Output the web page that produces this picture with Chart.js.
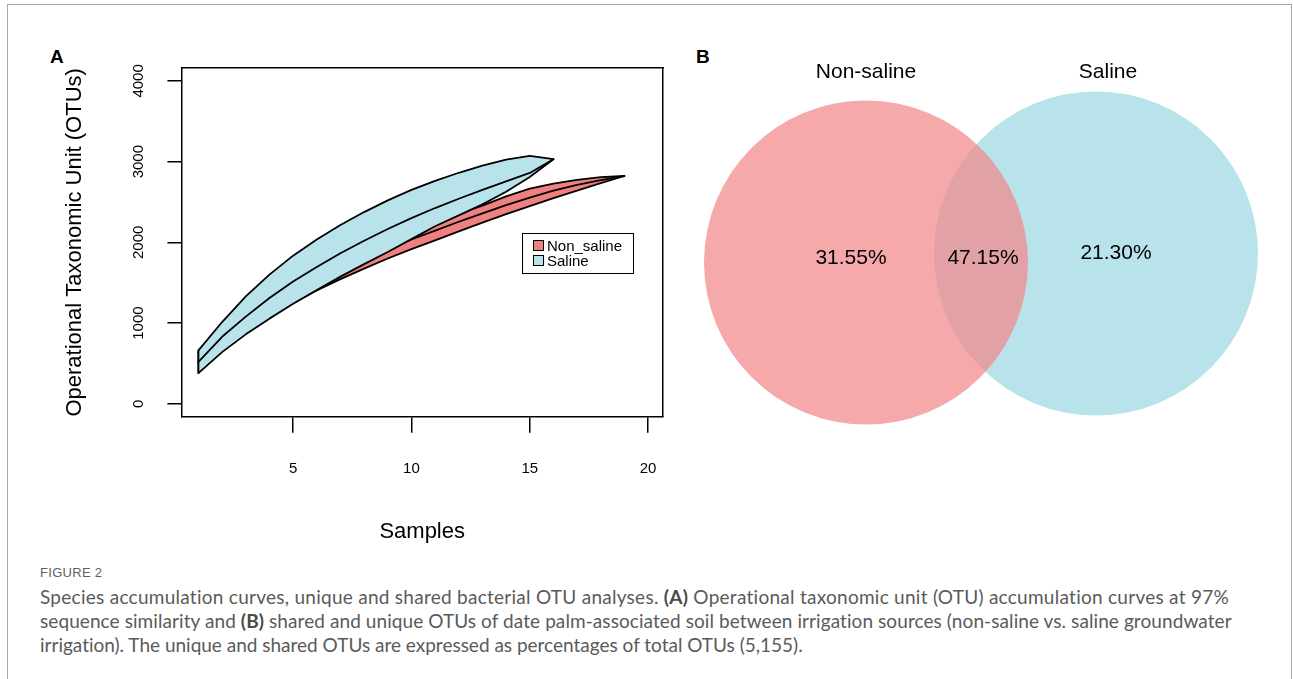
<!DOCTYPE html>
<html>
<head>
<meta charset="utf-8">
<title>Figure 2 — OTU accumulation / Venn</title>
<script src="https://cdn.jsdelivr.net/npm/chart.js@4.4.1/dist/chart.umd.min.js"></script>
<style>
  html, body { margin: 0; padding: 0; background: #fff; }
  body { width: 1293px; height: 679px; position: relative; overflow: hidden;
         font-family: "Liberation Sans", Arial, Helvetica, sans-serif; color: #000; }
  #frame { position: absolute; left: 7px; top: 4px; width: 1283px; height: 720px;
           border: 1px solid #a8a8a8; border-bottom: none; }
  .abs { position: absolute; }
  .panel { font-weight: bold; font-size: 19px; line-height: 24px; }
  #legendA { left: 522px; top: 233px; width: 112px; height: 41px; box-sizing: border-box;
             border: 1.5px solid #000; font-size: 15px; }
  #legendA .row { position: absolute; left: 10px; height: 15px; line-height: 15px; white-space: nowrap; }
  #legendA .sw { display: inline-block; width: 9px; height: 9px; border: 1.2px solid #000;
                 vertical-align: top; margin-top: 2px; margin-right: 3px; }
  .venn { font-size: 21px; line-height: 24px; white-space: nowrap; transform: translate(-50%, -50%); }
  #figno { left: 40px; top: 565px; font-size: 13px; line-height: 16px; color: #5f5f5f;
           letter-spacing: 0.3px; }
  #caption { left: 40px; top: 585px; font-family: Lato, "Open Sans", sans-serif; font-size: 19px;
             line-height: 24px; color: #5a5a5a; white-space: nowrap; }
  #caption span { display: block; }
  #caption b { color: #4a4a4a; }
</style>
</head>
<body>
<div id="frame"></div>

<div class="abs panel" style="left:50px; top:45px;">A</div>
<div class="abs panel" style="left:696px; top:45px;">B</div>

<canvas id="accum" class="abs" width="640" height="520" style="left:40px; top:40px;"></canvas>
<div id="legendA" class="abs"></div>

<canvas id="venn" class="abs" width="590" height="400" style="left:690px; top:40px;"></canvas>
<div id="vennSetA" class="abs venn" style="left:866px; top:71px;"></div>
<div id="vennSetB" class="abs venn" style="left:1108px; top:71px;"></div>
<div id="vennOnlyA" class="abs venn" style="left:851px; top:257px;"></div>
<div id="vennBoth" class="abs venn" style="left:983px; top:257px;"></div>
<div id="vennOnlyB" class="abs venn" style="left:1116px; top:252px;"></div>

<div id="figno" class="abs">FIGURE 2</div>
<div id="caption" class="abs"><span data-w="1190">Species accumulation curves, unique and shared bacterial OTU analyses. <b>(A)</b> Operational taxonomic unit (OTU) accumulation curves at 97%</span><span data-w="1192">sequence similarity and <b>(B)</b> shared and unique OTUs of date palm-associated soil between irrigation sources (non-saline vs. saline groundwater</span><span data-w="763">irrigation). The unique and shared OTUs are expressed as percentages of total OTUs (5,155).</span></div>

<script>
'use strict';

// ── Données ─────────────────────────────────────────────────────
var seriesNames      = ['Non_saline', 'Saline'];

var samplesNonSaline = [1, 2, 3, 4, 5, 6, 7, 8, 9, 10, 11, 12, 13, 14, 15, 16, 17, 18, 19];
var nonSalineUpper   = [640, 930, 1160, 1340, 1500, 1650, 1785, 1915, 2040, 2155, 2255, 2355, 2455, 2570, 2665, 2728, 2775, 2808, 2822];
var nonSalineMean    = [520, 790, 1010, 1200, 1370, 1525, 1665, 1795, 1920, 2035, 2145, 2255, 2360, 2460, 2555, 2640, 2712, 2772, 2822];
var nonSalineLower   = [405, 660, 875, 1065, 1245, 1405, 1545, 1675, 1800, 1915, 2025, 2135, 2245, 2350, 2450, 2548, 2642, 2735, 2822];

var samplesSaline    = [1, 2, 3, 4, 5, 6, 7, 8, 9, 10, 11, 12, 13, 14, 15, 16];
var salineUpper      = [661, 1013, 1330, 1600, 1835, 2035, 2215, 2375, 2520, 2650, 2762, 2862, 2950, 3025, 3070, 3030];
var salineMean       = [520, 830, 1080, 1310, 1515, 1695, 1865, 2020, 2165, 2300, 2425, 2540, 2650, 2755, 2860, 3030];
var salineLower      = [380, 640, 860, 1055, 1240, 1410, 1575, 1730, 1880, 2040, 2200, 2335, 2470, 2626, 2810, 3030];

var xTicks = [5, 10, 15, 20];
var yTicks = [0, 1000, 2000, 3000, 4000];

var vennSets   = ['Non-saline', 'Saline'];
var vennShares = [31.55, 47.15, 21.30];   // unique A, partagé, unique B (%)

// ── Styles ──────────────────────────────────────────────────────
var RED_FILL  = '#F08080';
var BLUE_FILL = '#B9E3EA';
var FONT      = '"Liberation Sans", Arial, Helvetica, sans-serif';

// ── Helpers ─────────────────────────────────────────────────────
function pts(xs, ys) {
    return xs.map(function (x, i) { return { x: x, y: ys[i] }; });
}
function edge(xs, lo, hi) {   // côté vertical fermant le polygone en x = 1
    return [{ x: xs[0], y: lo[0] }, { x: xs[0], y: hi[0] }];
}
function outline(data, order, extra) {
    var ds = {
        data: data, borderColor: '#000', borderWidth: 1.8, pointRadius: 0,
        fill: false, tension: 0, order: order,
        borderJoinStyle: 'round', borderCapStyle: 'round'
    };
    for (var k in extra) ds[k] = extra[k];
    return ds;
}
function fixTicks(list) {
    return function (scale) { scale.ticks = list.map(function (v) { return { value: v }; }); };
}
// taille d'axe imposée, sans marge de débordement des étiquettes
function fixSize(prop, value) {
    return function (s) {
        s[prop] = value;
        s.paddingLeft = s.paddingRight = s.paddingTop = s.paddingBottom = 0;
    };
}

// ── Panel A : courbes d'accumulation ────────────────────────────
var datasets = [
    outline(pts(samplesNonSaline, nonSalineUpper), 8, { fill: 1, backgroundColor: RED_FILL }),
    outline(pts(samplesNonSaline, nonSalineLower), 7),
    outline(pts(samplesNonSaline, nonSalineMean), 6),
    outline(edge(samplesNonSaline, nonSalineLower, nonSalineUpper), 5),
    outline(pts(samplesSaline, salineUpper), 4, { fill: 5, backgroundColor: BLUE_FILL }),
    outline(pts(samplesSaline, salineLower), 3),
    outline(pts(samplesSaline, salineMean), 2),
    outline(edge(samplesSaline, salineLower, salineUpper), 1)
];

var X_MIN = 0.28, X_MAX = 20.63, Y_MIN = -160, Y_MAX = 4160;

new Chart(document.getElementById('accum'), {
    type: 'line',
    data: { datasets: datasets },
    options: {
        responsive: false,
        animation: false,
        events: [],
        layout: { autoPadding: false, padding: { left: 10, top: 28, right: 17, bottom: 10 } },
        plugins: { legend: { display: false }, tooltip: { enabled: false } },
        scales: {
            x: {
                type: 'linear', position: 'bottom', min: X_MIN, max: X_MAX,
                afterBuildTicks: fixTicks(xTicks),
                afterFit: fixSize('height', 133.3),
                grid: { drawOnChartArea: false, drawTicks: true, tickLength: 16, color: '#000', lineWidth: 1.5 },
                border: { display: true, color: '#000', width: 1.5 },
                ticks: { color: '#000', padding: 27, font: { family: FONT, size: 15 },
                         callback: function (v) { return String(v); } },
                title: { display: true, text: 'Samples', color: '#000',
                         font: { family: FONT, size: 22 }, padding: { top: 0, bottom: 5 } }
            },
            y: {
                type: 'linear', position: 'left', min: Y_MIN, max: Y_MAX,
                afterBuildTicks: fixTicks(yTicks),
                afterFit: fixSize('width', 131.4),
                grid: { drawOnChartArea: false, drawTicks: true, tickLength: 14, color: '#000', lineWidth: 1.5 },
                border: { display: true, color: '#000', width: 1.5 },
                ticks: { color: '#000', padding: 11.7, crossAlign: 'center', minRotation: 90, maxRotation: 90,
                         font: { family: FONT, size: 15 },
                         callback: function (v) { return String(v); } },
                title: { display: true, text: 'Operational Taxonomic Unit (OTUs)', color: '#000',
                         font: { family: FONT, size: 22 }, padding: { top: 11.6, bottom: 0 } }
            },
            x2: {
                type: 'linear', position: 'top', min: X_MIN, max: X_MAX,
                afterFit: fixSize('height', 0),
                grid: { display: false }, ticks: { display: false },
                border: { display: true, color: '#000', width: 1.5 }
            },
            y2: {
                type: 'linear', position: 'right', min: Y_MIN, max: Y_MAX,
                afterFit: fixSize('width', 0),
                grid: { display: false }, ticks: { display: false },
                border: { display: true, color: '#000', width: 1.5 }
            }
        }
    }
});

// Légende (boîte R en haut à droite du graphe)
var legendA = document.getElementById('legendA');
[RED_FILL, BLUE_FILL].forEach(function (c, i) {
    var row = document.createElement('div');
    row.className = 'row';
    row.style.top = (4 + i * 15) + 'px';
    row.innerHTML = '<span class="sw" style="background:' + c + '"></span>' + seriesNames[i];
    legendA.appendChild(row);
});

// ── Panel B : diagramme de Venn ────────────────────────────────
var vennLayout = {            // centres / rayon en pixels du canvas
    a: { x: 176, y: 222.5 },
    b: { x: 406, y: 213.5 },
    r: 162
};

new Chart(document.getElementById('venn'), {
    type: 'bubble',
    data: {
        datasets: [
            { label: vennSets[0], data: [{ x: vennLayout.a.x, y: vennLayout.a.y, r: vennLayout.r }],
              backgroundColor: 'rgba(242,132,136,0.7)', borderWidth: 0, order: 1, clip: false },
            { label: vennSets[1], data: [{ x: vennLayout.b.x, y: vennLayout.b.y, r: vennLayout.r }],
              backgroundColor: '#B8E3EA', borderWidth: 0, order: 2, clip: false }
        ]
    },
    options: {
        responsive: false,
        animation: false,
        events: [],
        layout: { autoPadding: false, padding: 0 },
        plugins: { legend: { display: false }, tooltip: { enabled: false } },
        scales: {
            x: { display: false, min: 0, max: 590 },
            y: { display: false, min: 0, max: 400, reverse: true }
        }
    }
});

document.getElementById('vennSetA').textContent  = vennSets[0];
document.getElementById('vennSetB').textContent  = vennSets[1];
document.getElementById('vennOnlyA').textContent = vennShares[0].toFixed(2) + '%';
document.getElementById('vennBoth').textContent  = vennShares[1].toFixed(2) + '%';
document.getElementById('vennOnlyB').textContent = vennShares[2].toFixed(2) + '%';

// ── Légende de figure : ajuste l'espacement ligne par ligne ──
Array.prototype.forEach.call(document.querySelectorAll('#caption span'), function (line) {
    var probe = document.createElement('span');
    probe.style.display = 'inline';
    probe.innerHTML = line.innerHTML;
    line.innerHTML = '';
    line.appendChild(probe);
    var w = probe.getBoundingClientRect().width;
    var n = probe.textContent.length;
    line.style.letterSpacing = ((+line.getAttribute('data-w') - w) / n) + 'px';
});
</script>
</body>
</html>
